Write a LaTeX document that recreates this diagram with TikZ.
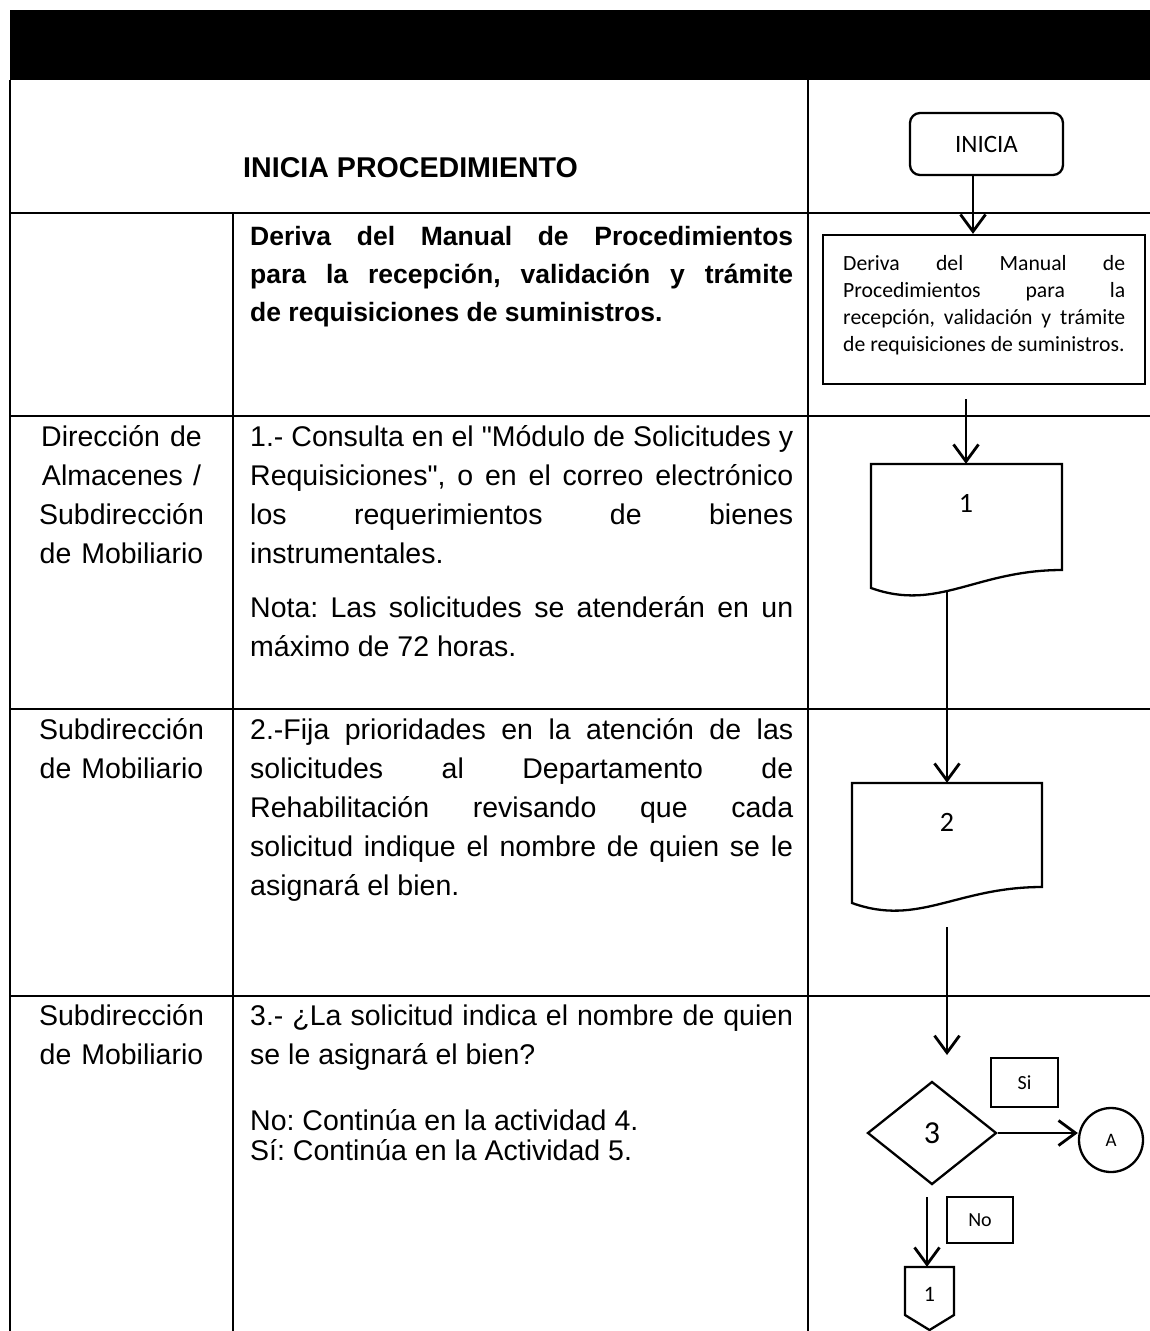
\documentclass[tikz,border=0pt]{standalone}
\usepackage{fontspec}
\setmainfont{Liberation Sans}
\newfontfamily\arialf{Liberation Sans}
\newfontfamily\calf{Carlito}
\usetikzlibrary{arrows.meta,shapes.geometric,calc}
\newcommand\rsp{\spaceskip=0pt\xspaceskip=0pt\frenchspacing}
\newcommand\jlin[1]{\makebox[543pt][s]{\rsp #1}}
\newcommand\flin[1]{\makebox[282pt][s]{\rsp #1}}
\begin{document}
\begin{tikzpicture}[x=1pt,y=-1pt,
  gridline/.style={line width=1.9pt},
  shp/.style={draw, line width=2.3pt},
  arr/.style={line width=2.8pt, -{Straight Barb[length=17pt,width=25pt,line width=2.8pt]}},
  bodytxt/.style={anchor=north west, inner sep=0pt, text width=560pt, align=left,
    font=\arialf\fontsize{28.5}{39}\selectfont},
  lanetxt/.style={anchor=north, inner sep=0pt, text width=222pt, align=center,
    font=\arialf\fontsize{28.5}{39}\selectfont},
  boldtxt/.style={anchor=north west, inner sep=0pt, text width=560pt, align=left,
    font=\arialf\bfseries\fontsize{26.5}{38}\selectfont},
  hdr/.style={anchor=base west, inner sep=0pt, font=\arialf\bfseries\fontsize{28.6}{34}\selectfont},
  flowtxt/.style={inner sep=0pt, font=\calf\fontsize{#1}{#1}\selectfont},
  flowtxt/.default=22
]
\useasboundingbox (0,0) rectangle (1150,1331);
% header bar
\fill[black] (10,10) rectangle (1150,80);
% grid
\draw[gridline] (10,80) -- (10,1331);
\draw[gridline] (233,213) -- (233,1331);
\draw[gridline] (808,80) -- (808,1331);
\draw[gridline] (10,213) -- (1150,213);
\draw[gridline] (10,416) -- (1150,416);
\draw[gridline] (10,709) -- (1150,709);
\draw[gridline] (10,996) -- (1150,996);

% texts, left and middle columns
\node[hdr] (t0) at (243,177) {INICIA PROCEDIMIENTO};
\node[boldtxt] (t1) at (250,218.4) {\rsp\strut\jlin{Deriva del Manual de Procedimientos}\\
  \jlin{para la recepción, validación y trámite}\\
  \mbox{de requisiciones de suministros.}};

\node[lanetxt] (l1) at (121.5,418.7) {\rsp\strut Dirección de\\ Almacenes /\\ Subdirección\\ de Mobiliario};
\node[bodytxt] (b1) at (250,418.7) {\rsp\strut\jlin{1.- Consulta en el "Módulo de Solicitudes y}\\
  \jlin{Requisiciones", o en el correo electrónico}\\
  \jlin{los requerimientos de bienes}\\
  instrumentales.};
\node[bodytxt] (b1n) at (250,589.7) {\rsp\strut\jlin{Nota: Las solicitudes se atenderán en un}\\
  \mbox{máximo de 72 horas.}};

\node[lanetxt] (l2) at (121.5,711.7) {\rsp\strut Subdirección\\ de Mobiliario};
\node[bodytxt] (b2) at (250,711.7) {\rsp\strut\jlin{2.-Fija prioridades en la atención de las}\\
  \jlin{solicitudes al Departamento de}\\
  \jlin{Rehabilitación revisando que cada}\\
  \jlin{solicitud indique el nombre de quien se le}\\
  \mbox{asignará el bien.}};

\node[lanetxt] (l3) at (121.5,997.7) {\rsp\strut Subdirección\\ de Mobiliario};
\node[bodytxt] (b3) at (250,997.7) {\rsp\strut\jlin{3.- ¿La solicitud indica el nombre de quien}\\
  \mbox{se le asignará el bien?}};
\node[bodytxt, font=\arialf\fontsize{28.5}{30}\selectfont] (b3n) at (250,1109) {\rsp\strut\mbox{No: Continúa en la actividad 4.}\\
  \mbox{Sí: Continúa en la Actividad 5.}};

% flow column
\node[shp, rounded corners=10pt, minimum width=153pt, minimum height=62pt, inner sep=0pt,
  font=\calf\fontsize{25}{30}\selectfont] (ini) at (986.5,144) {INICIA};

\node[shp, minimum width=322pt, minimum height=149pt, inner sep=0pt] (der) at (984,309.5) {};
\node[anchor=north west, inner sep=0pt, text width=300pt, align=left,
  font=\calf\fontsize{21.7}{27}\selectfont] (dert) at (843,251) {\rsp\strut\flin{Deriva del Manual de}\\
  \flin{Procedimientos para la}\\
  \flin{recepción, validación y trámite}\\
  \mbox{de requisiciones de suministros.}};

% document 1
\draw[shp] (871,464) -- (1062,464) -- (1062,570) .. controls (976,570) and (938,612) .. (871,588) -- cycle;
\node[inner sep=0pt, minimum width=191pt, minimum height=132pt] (d1) at (966.5,530) {};
\node[flowtxt=28] (d1t) at (966,503) {1};

% document 2
\draw[shp] (852,783) -- (1042,783) -- (1042,887) .. controls (956.5,887) and (918.5,927) .. (852,903) -- cycle;
\node[inner sep=0pt, minimum width=190pt, minimum height=128pt] (d2) at (947,847) {};
\node[flowtxt=28] (d2t) at (947,822) {2};

% decision
\node[shp, diamond, minimum width=129pt, minimum height=103pt, inner sep=0pt,
  font=\calf\fontsize{32}{36}\selectfont] (d3) at (932,1133) {3};
\node[shp, minimum width=67pt, minimum height=49pt, inner sep=0pt,
  font=\calf\fontsize{20}{24}\selectfont] (si) at (1024.5,1082.5) {Si};
\node[shp, circle, minimum size=64pt, inner sep=0pt,
  font=\calf\fontsize{19}{22}\selectfont] (A) at (1111,1140) {A};
\node[shp, minimum width=66pt, minimum height=46pt, inner sep=0pt,
  font=\calf\fontsize{20}{24}\selectfont] (no) at (980,1220) {No};

% off-page connector
\draw[shp] (905,1267) -- (954,1267) -- (954,1315) -- (929.5,1330) -- (905,1315) -- cycle;
\node[inner sep=0pt, minimum width=49pt, minimum height=63pt] (c1) at (929.5,1298.5) {};
\node[flowtxt=22] (c1t) at (929.5,1294) {1};

% connectors
\coordinate (a0) at ($(ini.south)+(-13.5,0)$);
\draw[arr] (a0) -- (a0 |- der.north);
\coordinate (a1) at (966,399);
\draw[arr] (a1) -- (a1 |- d1.north);
\coordinate (a2) at (947,590);
\draw[arr] (a2) -- (a2 |- d2.north);
\coordinate (a3) at (947,927);
\coordinate (a3e) at (947,1055);
\draw[arr] (a3) -- (a3e);
\draw[arr] (d3.east) -- (d3.east -| A.west);
\coordinate (a4) at (927,1197);
\draw[arr] (a4) -- (a4 |- c1.north);
\end{tikzpicture}
\end{document}
